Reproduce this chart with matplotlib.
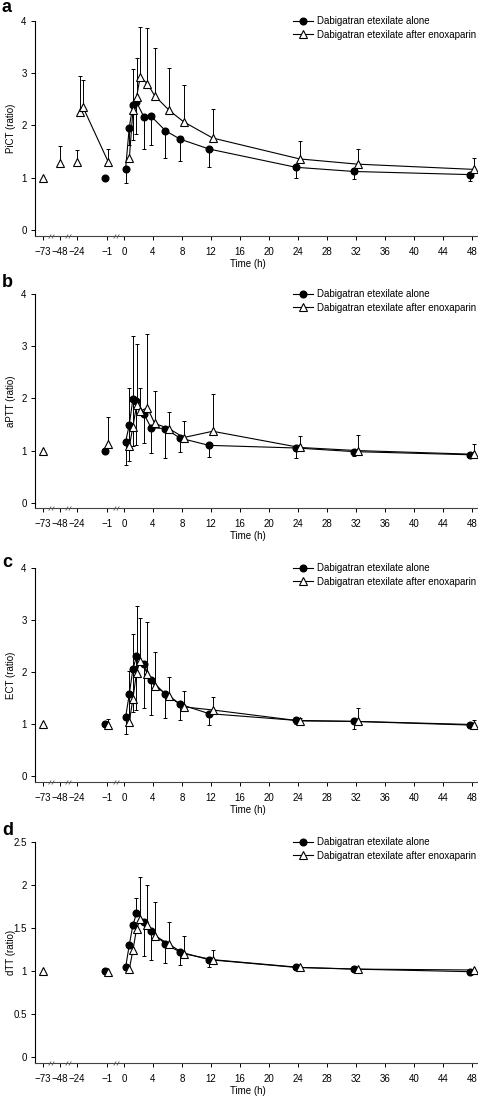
import numpy as np
import matplotlib.pyplot as plt
from matplotlib.path import Path
from matplotlib.ticker import NullLocator
from matplotlib.transforms import offset_copy

plt.rcParams['font.family'] = ['Liberation Sans', 'DejaVu Sans']
plt.rcParams['font.size'] = 7

# broken time axis: pre-dose times squeezed together, 0..48 h linear
axis_times = [-100, -73, -48, -24, -1, 0, 60]
axis_pos = [-13.78, -11.21, -8.83, -6.52, -2.30, 0, 60]

x_ticks = [-73, -48, -24, -1, 0, 4, 8, 12, 16, 20, 24, 28, 32, 36, 40, 44, 48]
x_ticklabels = ['\u221273', '\u221248', '\u221224', '\u22121'] + [str(v) for v in range(0, 49, 4)]
x_breaks = [(-73, -48), (-48, -24), (-1, 0)]

t_post = [0.5, 1, 1.5, 2, 3, 4, 6, 8, 12, 24, 32, 48]
nan = np.nan

# a: PiCT
pict_alone = [1.17, 1.96, 2.39, 2.45, 2.17, 2.18, 1.90, 1.74, 1.55, 1.20, 1.12, 1.06]
pict_alone_tip = [0.90, 1.62, 1.72, 1.84, 1.55, 1.62, 1.38, 1.32, 1.21, 0.99, 0.97, 0.93]
pict_enox = [1.37, 2.29, 2.54, 2.93, 2.80, 2.57, 2.29, 2.07, 1.76, 1.36, 1.26, 1.16]
pict_enox_tip = [nan, 3.08, 3.30, 3.88, 3.87, 3.49, 3.10, 2.78, 2.32, 1.71, 1.55, 1.37]
pict_pre_t = [-73, -48, -24]
pict_pre = [1.00, 1.28, 1.30]
pict_pre_tip = [nan, 1.60, 1.53]
pict_peak_t = [-22, -20, -1]
pict_peak = [2.25, 2.35, 1.30]
pict_peak_tip = [2.94, 2.87, 1.55]
pict_alone_base = 1.00

# b: aPTT
aptt_alone = [1.17, 1.49, 1.98, 1.95, 1.71, 1.44, 1.42, 1.24, 1.10, 1.05, 0.98, 0.92]
aptt_alone_tip = [0.72, 0.81, 1.08, 1.10, 1.15, 0.95, 0.86, 0.97, 0.88, 0.86, 0.90, 0.86]
aptt_enox = [1.08, 1.46, 1.87, 1.76, 1.82, 1.52, 1.42, 1.25, 1.37, 1.06, 1.00, 0.93]
aptt_enox_tip = [2.20, 3.19, 3.05, 2.20, 3.23, 2.14, 1.74, 1.56, 2.08, 1.28, 1.30, 1.12]
aptt_pre_t = [-73]
aptt_pre = [1.00]
aptt_pre_tip = [nan]
aptt_peak_t = [-1]
aptt_peak = [1.12]
aptt_peak_tip = [1.65]
aptt_alone_base = 1.00

# c: ECT
ect_alone = [1.13, 1.57, 2.05, 2.30, 2.15, 1.85, 1.57, 1.38, 1.20, 1.07, 1.05, 0.98]
ect_alone_tip = [0.80, 1.02, 1.24, 1.27, 1.30, 1.18, 1.12, 1.08, 0.99, 1.00, 0.90, 0.93]
ect_enox = [1.04, 1.49, 1.99, 2.22, 1.97, 1.73, 1.54, 1.33, 1.27, 1.06, 1.05, 0.99]
ect_enox_tip = [2.02, 2.73, 3.27, 3.04, 2.96, 2.39, 1.90, 1.64, 1.51, 1.12, 1.30, 1.07]
ect_pre_t = [-73]
ect_pre = [1.00]
ect_pre_tip = [nan]
ect_peak_t = [-1]
ect_peak = [0.99]
ect_peak_tip = [1.10]
ect_alone_base = 1.00

# d: dTT
dtt_alone = [1.04, 1.30, 1.53, 1.67, 1.57, 1.46, 1.31, 1.22, 1.13, 1.04, 1.02, 0.99]
dtt_alone_tip = [nan, nan, nan, 1.85, 1.17, 1.13, 1.09, 1.07, 1.04, nan, nan, nan]
dtt_enox = [1.02, 1.24, 1.49, 1.60, 1.53, 1.41, 1.31, 1.20, 1.13, 1.04, 1.02, 1.01]
dtt_enox_tip = [nan, nan, nan, 2.09, 2.00, 1.80, 1.57, 1.40, 1.24, nan, nan, nan]
dtt_pre_t = [-73]
dtt_pre = [1.00]
dtt_pre_tip = [nan]
dtt_peak_t = [-1]
dtt_peak = [0.99]
dtt_peak_tip = [nan]
dtt_alone_base = 1.00

panels = [
    ('a', 12, 'PiCT (ratio)', (21, 236), (-0.115, 4), [0, 1, 2, 3, 4],
     pict_alone, pict_alone_tip, pict_enox, pict_enox_tip,
     pict_pre_t, pict_pre, pict_pre_tip, pict_peak_t, pict_peak, pict_peak_tip, pict_alone_base),
    ('b', 287, 'aPTT (ratio)', (294, 508), (-0.10, 4), [0, 1, 2, 3, 4],
     aptt_alone, aptt_alone_tip, aptt_enox, aptt_enox_tip,
     aptt_pre_t, aptt_pre, aptt_pre_tip, aptt_peak_t, aptt_peak, aptt_peak_tip, aptt_alone_base),
    ('c', 567, 'ECT (ratio)', (568, 782), (-0.115, 4), [0, 1, 2, 3, 4],
     ect_alone, ect_alone_tip, ect_enox, ect_enox_tip,
     ect_pre_t, ect_pre, ect_pre_tip, ect_peak_t, ect_peak, ect_peak_tip, ect_alone_base),
    ('d', 835, 'dTT (ratio)', (842, 1063), (-0.073, 2.5), [0, 0.5, 1, 1.5, 2, 2.5],
     dtt_alone, dtt_alone_tip, dtt_enox, dtt_enox_tip,
     dtt_pre_t, dtt_pre, dtt_pre_tip, dtt_peak_t, dtt_peak, dtt_peak_tip, dtt_alone_base),
]

W, H = 478, 1099
fig = plt.figure(figsize=(W / 100, H / 100), dpi=100)

circle = dict(marker='o', ms=4.8, mfc='black', mec='black')
triangle = dict(marker='^', ms=5.2, mfc='white', mec='black', mew=0.8)

# two slanted strokes marking the axis breaks
slash = Path([(-1.4, -1), (-0.2, 1), (0.2, -1), (1.4, 1)],
             [Path.MOVETO, Path.LINETO, Path.MOVETO, Path.LINETO])


def fwd(t):
    return np.interp(t, axis_times, axis_pos)


def inv(u):
    return np.interp(u, axis_pos, axis_times)


def draw(ax, t, y, tip, style, dx, connect=True, label=None):
    tr = offset_copy(ax.transData, fig=ax.figure, x=dx, y=0, units='dots')
    for ti, yi, ei in zip(t, y, tip):
        if np.isnan(ei):
            continue
        ax.plot([ti, ti], [yi, ei], color='black', lw=0.7, transform=tr, zorder=2)
        ax.plot([ti], [ei], marker='_', ms=3.5, mew=0.7, color='black',
                transform=tr, zorder=2)
    ax.plot(t, y, ls='-' if connect else 'none', color='black', lw=0.8,
            transform=tr, zorder=3, label=label, clip_on=False, **style)


for (letter, letter_y, ylabel, (top, bottom), ylim, yticks,
     alone, alone_tip, enox, enox_tip,
     pre_t, pre, pre_tip, peak_t, peak, peak_tip, base) in panels:
    ax = fig.add_axes([35 / W, 1 - bottom / H, 442 / W, (bottom - top) / H])
    ax.set_xscale('function', functions=(fwd, inv))
    ax.set_xlim(-84.2, 48.7)
    ax.set_ylim(*ylim)

    draw(ax, t_post, alone, alone_tip, circle, -2, label='Dabigatran etexilate alone')
    draw(ax, t_post, enox, enox_tip, triangle, 1.7, label='Dabigatran etexilate after enoxaparin')
    draw(ax, [-1], [base], [nan], circle, -2, connect=False)
    draw(ax, pre_t, pre, pre_tip, triangle, 0.5, connect=False)
    draw(ax, peak_t, peak, peak_tip, triangle, 1.0)

    for spine in ('top', 'right'):
        ax.spines[spine].set_visible(False)
    for spine in ('left', 'bottom'):
        ax.spines[spine].set_linewidth(0.8)
    ax.spines['bottom'].set_color('#444444')
    ax.spines['left'].set_bounds(ylim[0], ylim[1])

    ax.set_xticks(x_ticks)
    ax.set_xticklabels(x_ticklabels)
    ax.xaxis.set_minor_locator(NullLocator())
    ax.set_yticks(yticks)
    ax.set_yticklabels([('%g' % v) for v in yticks])
    ax.tick_params(direction='out', length=3, width=0.7, pad=3, labelsize=7)
    ax.tick_params(axis='x', pad=5)

    brk_t = [np.mean(fwd(np.array(p))) for p in x_breaks]
    ax.plot([inv(u) for u in brk_t], [0] * len(brk_t), ls='none', marker=slash,
            ms=4, mew=0.6, color='#555555', transform=ax.get_xaxis_transform(),
            clip_on=False, zorder=4)

    h_px = bottom - top
    ax.set_xlabel('Time (h)', fontsize=7)
    ax.xaxis.set_label_coords(213 / 442, -23 / h_px)
    ax.set_ylabel(ylabel, fontsize=7)
    ax.yaxis.set_label_coords(-19 / 442, 0.5)

    ax.legend(loc='upper left', bbox_to_anchor=(0.584, 1 + 5 / h_px), frameon=False,
              borderpad=0, borderaxespad=0, handlelength=2.0, handletextpad=0.5,
              labelspacing=0.4, fontsize=7)

    fig.text(2 / W, 1 - letter_y / H, letter, fontsize=13, fontweight='bold',
             va='baseline', ha='left')

fig.savefig('out.png', dpi=100)
